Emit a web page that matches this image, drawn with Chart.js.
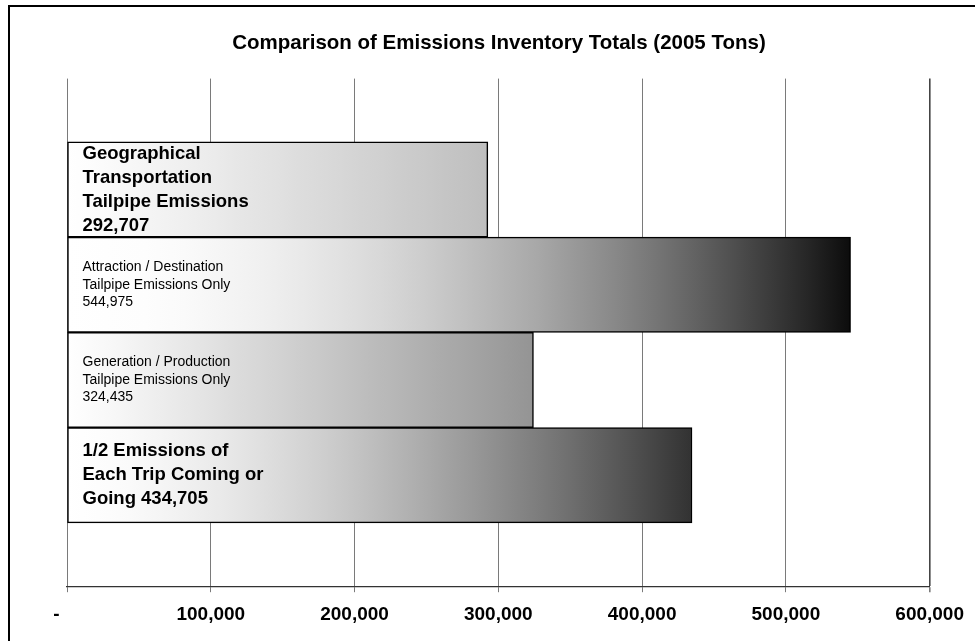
<!DOCTYPE html>
<html>
<head>
<meta charset="utf-8">
<script src="https://cdn.jsdelivr.net/npm/chart.js"></script>
<style>
  body { margin: 0; background: #fff; }
  #wrap { position: relative; width: 975px; height: 641px; overflow: hidden; }
  #frame { position: absolute; left: 8px; top: 5px; width: 1000px; height: 700px; border-left: 2px solid #000; border-top: 2px solid #000; }
  canvas { position: absolute; left: 0; top: 0; }
</style>
</head>
<body>
<div id="wrap">
  <div id="frame"></div>
  <canvas id="chart" width="975" height="641"></canvas>
</div>
<script>
const chartTitle = 'Comparison of Emissions Inventory Totals (2005 Tons)';

// bar captions, top to bottom
const categories = [
    ['Geographical', 'Transportation', 'Tailpipe Emissions', '292,707'],
    ['Attraction / Destination', 'Tailpipe Emissions Only', '544,975'],
    ['Generation / Production', 'Tailpipe Emissions Only', '324,435'],
    ['1/2 Emissions of', 'Each Trip Coming or', 'Going 434,705']
];
const emissions = [292707, 544975, 324435, 434705];
const xTicks = [0, 100000, 200000, 300000, 400000, 500000, 600000];

// styling per bar
const boldCaption = [true, false, false, true];
const endShade = [190, 12, 148, 50];
const shadeCurve = [1.1, 2, 1.1, 1.6];

const FONT = "'Liberation Sans', Arial, sans-serif";

function barFill(ctx) {
    const chart = ctx.chart;
    const i = ctx.dataIndex;
    if (!chart.chartArea || i === undefined) return '#ccc';
    const xs = chart.scales.x;
    const x0 = xs.getPixelForValue(0);
    const x1 = xs.getPixelForValue(emissions[i]);
    const g = chart.ctx.createLinearGradient(x0, 0, x1, 0);
    for (let s = 0; s <= 20; s++) {
        const t = s / 20;
        const v = Math.round(255 - (255 - endShade[i]) * Math.pow(t, shadeCurve[i]));
        g.addColorStop(t, `rgb(${v},${v},${v})`);
    }
    return g;
}

// captions written inside the bars
const captionPlugin = {
    id: 'captions',
    afterDatasetsDraw(chart) {
        const c = chart.ctx;
        const meta = chart.getDatasetMeta(0);
        meta.data.forEach((bar, i) => {
            const lines = categories[i];
            const bold = boldCaption[i];
            const lh = bold ? 24 : 17.5;
            c.save();
            c.font = (bold ? 'bold 18.5px ' : '14px ') + FONT;
            c.fillStyle = '#000';
            c.textBaseline = 'middle';
            c.textAlign = 'left';
            const top = bar.y - (lines.length - 1) * lh / 2;
            lines.forEach((t, k) => c.fillText(t, bar.base + 15, top + k * lh));
            c.restore();
        });
    }
};

new Chart(document.getElementById('chart'), {
    type: 'bar',
    data: {
        datasets: [{
            data: emissions.map((v, i) => ({ x: v, y: i })),
            backgroundColor: barFill,
            borderColor: '#000',
            borderWidth: 1.5,
            borderSkipped: false,
            barPercentage: 1,
            categoryPercentage: 1
        }]
    },
    plugins: [captionPlugin],
    options: {
        indexAxis: 'y',
        responsive: false,
        animation: false,
        devicePixelRatio: 1,
        layout: { padding: { left: 67, right: 44, top: 0, bottom: 4 } },
        plugins: {
            legend: { display: false },
            tooltip: { enabled: false },
            title: {
                display: true,
                text: chartTitle,
                color: '#000',
                font: { family: FONT, size: 20.5, weight: 'bold', lineHeight: 1.2 },
                padding: { top: 31, bottom: 23 }
            }
        },
        scales: {
            x: {
                type: 'linear',
                min: 0,
                max: 600000,
                afterBuildTicks: axis => { axis.ticks = xTicks.map(v => ({ value: v })); },
                border: { display: true, color: '#333', width: 1.2 },
                grid: {
                    color: ctx => ctx.tick && ctx.tick.value === 600000 ? '#444' : '#7a7a7a',
                    lineWidth: ctx => ctx.tick && ctx.tick.value === 600000 ? 1.6 : 1,
                    tickLength: 6,
                    tickColor: '#7a7a7a'
                },
                ticks: {
                    color: '#000',
                    padding: 11,
                    maxRotation: 0,
                    font: { family: FONT, size: 19, weight: 'bold' },
                    callback: v => v === 0 ? '-    ' : v.toLocaleString('en-US')
                }
            },
            y: {
                type: 'linear',
                display: false,
                offset: false,
                reverse: true,
                min: -1.165,
                max: 4.165,
                afterBuildTicks: axis => { axis.ticks = categories.map((c, i) => ({ value: i })); }
            }
        }
    }
});
</script>
</body>
</html>
